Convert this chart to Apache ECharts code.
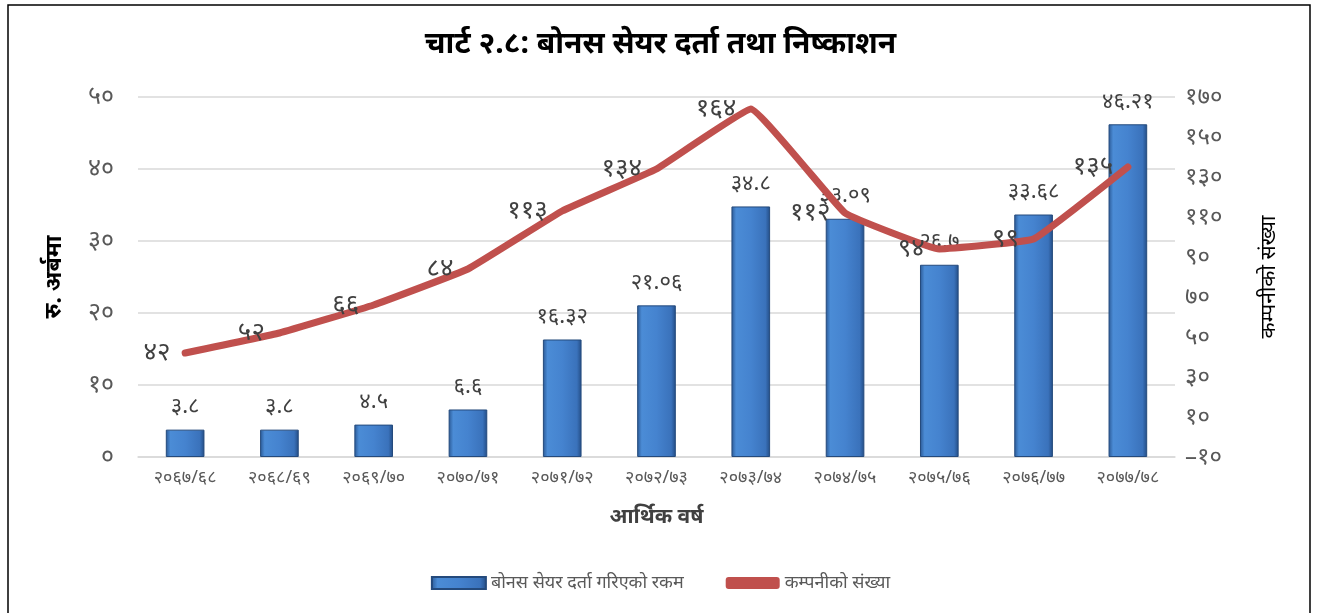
<!DOCTYPE html>
<html>
<head>
<meta charset="utf-8">
<script src="https://cdn.jsdelivr.net/npm/echarts@6/dist/echarts.min.js"></script>
<style>
  html, body { margin: 0; padding: 0; background: #fff; }
  #chart { width: 1321px; height: 613px; }
</style>
</head>
<body>
<div id="chart"></div>
<script>
const years = ['२०६७/६८', '२०६८/६९', '२०६९/७०', '२०७०/७१', '२०७१/७२', '२०७२/७३',
  '२०७३/७४', '२०७४/७५', '२०७५/७६', '२०७६/७७', '२०७७/७८'];
const bonusAmount = [3.8, 3.8, 4.5, 6.6, 16.32, 21.06, 34.8, 33.09, 26.7, 33.68, 46.21];
const companyCount = [42, 52, 66, 84, 113, 134, 164, 112, 94, 99, 135];

const devDigits = '०१२३४५६७८९';
const toDev = v => String(v).replace(/[0-9]/g, d => devDigits[d]).replace('-', '–');

const font = "'Noto Sans', 'Noto Sans Devanagari', sans-serif";
const chart = echarts.init(document.getElementById('chart'));

const barColor = new echarts.graphic.LinearGradient(0, 0, 1, 0, [
  { offset: 0, color: '#2a5894' },
  { offset: 0.12, color: '#4b8cd6' },
  { offset: 0.5, color: '#4583cf' },
  { offset: 0.88, color: '#3a72bb' },
  { offset: 1, color: '#234c84' }
]);

const option = {
  backgroundColor: '#fff',
  textStyle: { fontFamily: font },
  title: {
    text: 'चार्ट २.८: बोनस सेयर दर्ता तथा निष्काशन',
    left: 'center',
    top: 24,
    textStyle: { fontSize: 30, fontWeight: 'bold', color: '#000', fontFamily: font }
  },
  graphic: [{
    type: 'rect',
    shape: { x: 8, y: 5, width: 1302, height: 630 },
    style: { fill: 'none', stroke: '#000', lineWidth: 1.5 },
    silent: true
  }],
  legend: {
    bottom: 16,
    left: 'center',
    itemGap: 42,
    itemWidth: 54,
    itemHeight: 12,
    textStyle: { fontSize: 18, color: '#595959', fontFamily: font },
    data: [
      { name: 'बोनस सेयर दर्ता गरिएको रकम', icon: 'rect' },
      { name: 'कम्पनीको संख्या', icon: 'roundRect' }
    ]
  },
  grid: { left: 138, right: 146, top: 97, bottom: 156 },
  xAxis: {
    type: 'category',
    data: years,
    name: 'आर्थिक वर्ष',
    nameLocation: 'middle',
    nameGap: 50,
    nameTextStyle: { fontSize: 21, fontWeight: 'bold', color: '#404040' },
    axisLine: { lineStyle: { color: '#d9d9d9', width: 1.5 } },
    axisTick: { show: false },
    axisLabel: { fontSize: 18, color: '#595959', margin: 12 }
  },
  yAxis: [{
    type: 'value',
    min: 0, max: 50, interval: 10,
    name: 'रु. अर्बमा',
    nameLocation: 'middle',
    nameRotate: 90,
    nameGap: 72,
    nameTextStyle: { fontSize: 23, fontWeight: 'bold', color: '#000' },
    axisLabel: { formatter: v => toDev(v), fontSize: 25, color: '#595959', margin: 24 },
    splitLine: { lineStyle: { color: '#d9d9d9', width: 1.5 } },
    axisLine: { show: false },
    axisTick: { show: false }
  }, {
    type: 'value',
    min: -10, max: 170, interval: 20,
    name: 'कम्पनीको संख्या',
    nameLocation: 'middle',
    nameRotate: 90,
    nameGap: 84,
    nameTextStyle: { fontSize: 21, color: '#000' },
    axisLabel: { formatter: v => toDev(v), fontSize: 24, color: '#595959', margin: 10 },
    splitLine: { show: false },
    axisLine: { show: false },
    axisTick: { show: false }
  }],
  series: [{
    name: 'बोनस सेयर दर्ता गरिएको रकम',
    type: 'bar',
    data: bonusAmount,
    barWidth: '41%',
    itemStyle: { color: barColor, borderColor: '#244a7c', borderWidth: 1 },
    label: {
      show: true,
      position: 'top',
      distance: 12,
      formatter: p => toDev(p.value),
      fontSize: 22,
      color: '#404040'
    },
    z: 2
  }, {
    name: 'कम्पनीको संख्या',
    type: 'line',
    yAxisIndex: 1,
    data: companyCount,
    smooth: 0.08,
    symbol: 'circle',
    symbolSize: 1,
    itemStyle: { color: '#c0504d' },
    lineStyle: { color: '#c0504d', width: 7, cap: 'round', join: 'round' },
    label: {
      show: true,
      position: 'left',
      distance: 14,
      formatter: p => toDev(p.value),
      fontSize: 26,
      color: '#404040'
    },
    z: 3
  }]
};

chart.setOption(option);
</script>
</body>
</html>
